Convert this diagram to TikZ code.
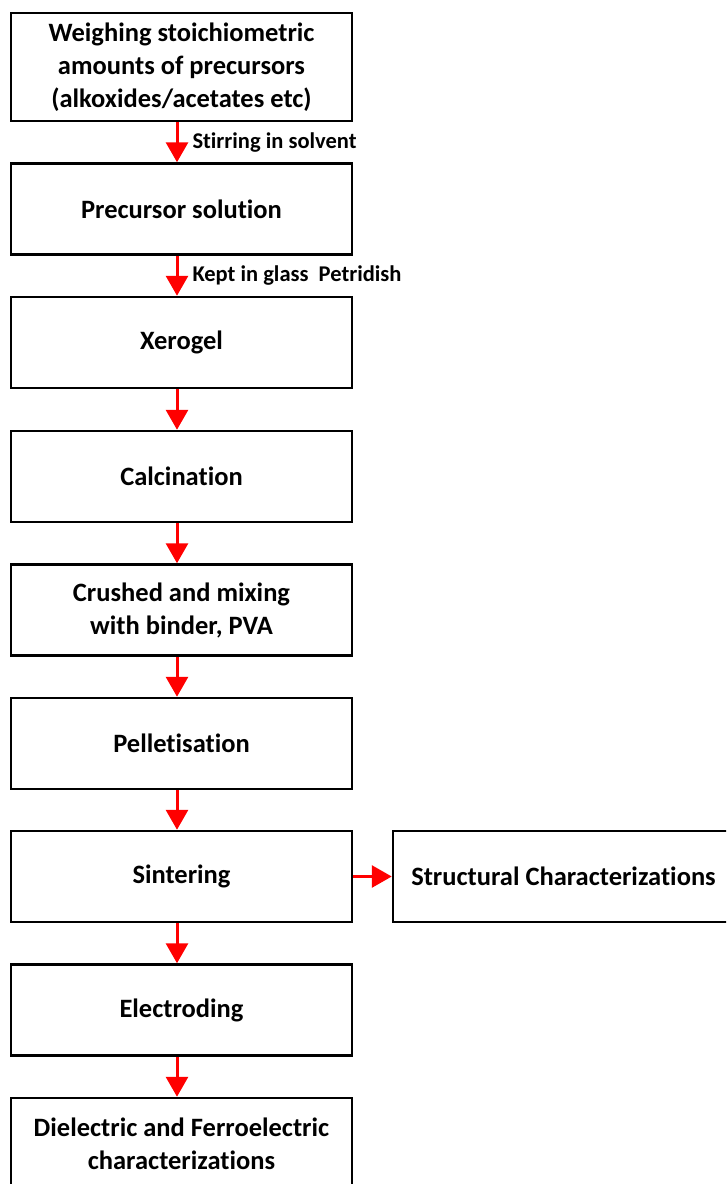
\documentclass[tikz,border=0pt]{standalone}
\usepackage{fontspec}
\setmainfont{Carlito}[Ligatures=NoCommon]
\usetikzlibrary{arrows.meta}

\tikzset{
  stepbox/.style={draw, line width=2.5pt, minimum width=341pt, minimum height=91pt,
    inner sep=0pt, align=center, font=\fontsize{26.5}{33}\selectfont\bfseries},
  flow/.style={draw=red, line width=3pt, -{Triangle[width=22pt, length=20pt]}},
  note/.style={anchor=west, inner sep=0pt, xshift=14pt,
    font=\fontsize{22.5}{26}\selectfont\bfseries},
}

\begin{document}
\begin{tikzpicture}[
    x = 1pt,
    y = -1pt,
    ]
    \useasboundingbox (0,0) rectangle (726,1184);
    \clip (0,0) rectangle (726,1184);
    % process steps
    \node[stepbox, minimum height=108pt] (weigh) at (181.5, 67)
      {Weighing stoichiometric\\amounts of precursors\\(alkoxides/acetates etc)};
    \node[stepbox] (sol) at (181.5, 209) {Precursor solution};
    \node[stepbox] (gel) at (181.5, 342.5) {Xerogel};
    \node[stepbox] (calc) at (181.5, 476.5) {Calcination};
    \node[stepbox] (crush) at (181.5, 610) {Crushed and mixing\\with binder, PVA};
    \node[stepbox] (pellet) at (181.5, 743.5) {Pelletisation};
    \node[stepbox] (sinter) at (181.5, 876.5) {Sintering};
    \node[stepbox] (electrode) at (181.5, 1010) {Electroding};
    \node[stepbox] (dielec) at (181.5, 1143.5)
      {Dielectric and Ferroelectric\\characterizations};
    % side branch
    \node[stepbox] (struct) at (563.5, 876.5) {Structural Characterizations};
    % arrows with notes
    \draw[flow] ([xshift=-4.5pt]weigh.south) -- ([xshift=-4.5pt]sol.north)
      node[midway, note] {Stirring in solvent};
    \draw[flow] ([xshift=-4.5pt]sol.south) -- ([xshift=-4.5pt]gel.north)
      node[midway, note] {Kept in glass\ \ Petridish};
    % plain arrows
    \foreach \a/\b in {gel/calc, calc/crush, crush/pellet, pellet/sinter,
                       sinter/electrode, electrode/dielec}
    \draw[flow] ([xshift=-4.5pt]\a.south) -- ([xshift=-4.5pt]\b.north);
    \draw[flow] (sinter.east) -- (struct.west);
  \end{tikzpicture}
\end{document}
